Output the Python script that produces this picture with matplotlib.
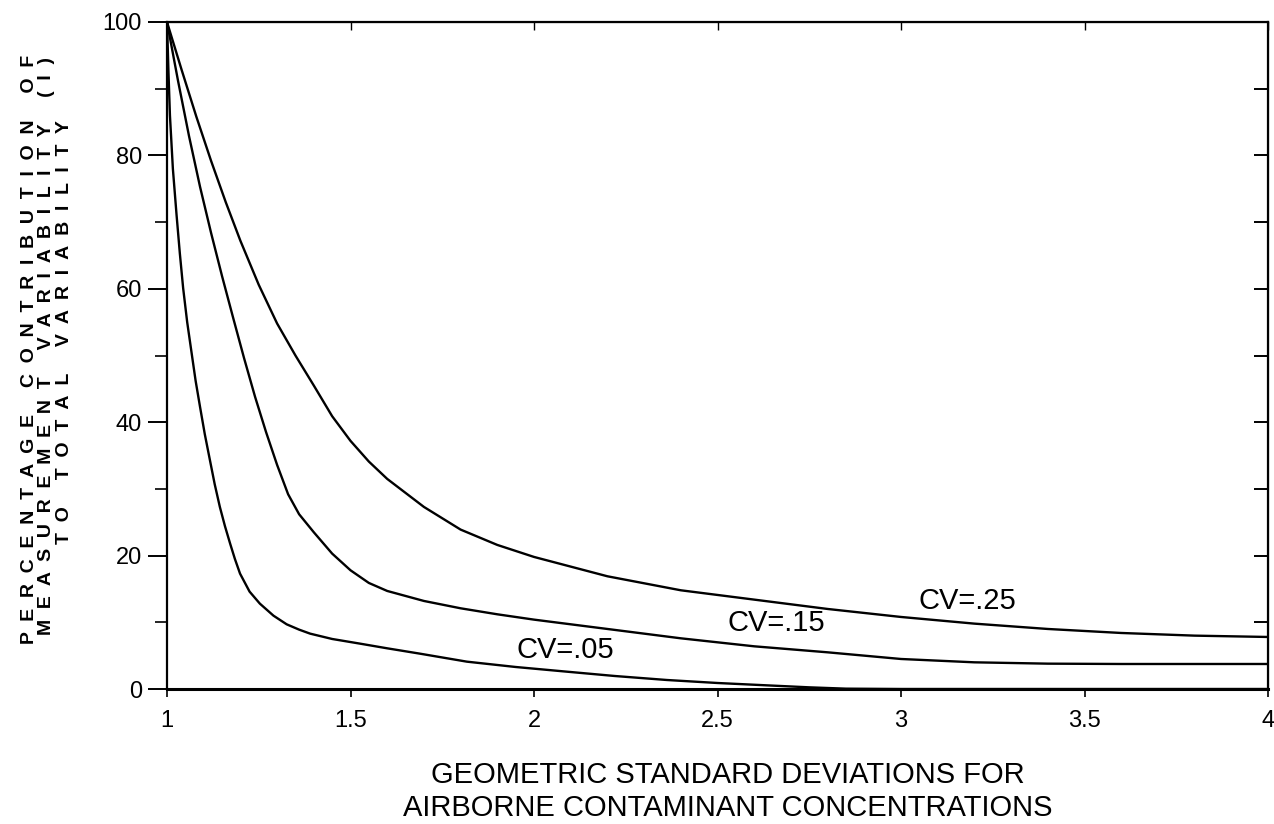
import matplotlib
matplotlib.use("Agg")
import matplotlib.pyplot as plt
from matplotlib.ticker import MultipleLocator

plt.rcParams['font.family'] = ['Liberation Sans', 'DejaVu Sans']

# ---- data ----
gsd_05 = [1.0, 1.004, 1.008, 1.016, 1.026, 1.035, 1.044, 1.055, 1.067, 1.078,
          1.090, 1.103, 1.117, 1.130, 1.144, 1.158, 1.172, 1.185, 1.199, 1.225,
          1.253, 1.29, 1.326, 1.36, 1.39, 1.45, 1.526, 1.6, 1.689, 1.817,
          1.95, 2.089, 2.22, 2.362, 2.5, 2.634, 2.75, 2.85, 3.0, 4.0]
pct_05 = [100, 92.5, 86.0, 78.0, 71.1, 65.3, 60.1, 55.0, 50.4, 46.2,
          42.3, 38.2, 34.3, 30.7, 27.3, 24.4, 21.8, 19.5, 17.3, 14.6,
          12.8, 11.0, 9.7, 8.9, 8.3, 7.5, 6.8, 6.1, 5.3, 4.1,
          3.3, 2.6, 1.95, 1.35, 0.9, 0.55, 0.25, 0.05, 0.0, 0.0]

gsd_15 = [1.0, 1.03, 1.06, 1.09, 1.12, 1.15, 1.18, 1.21, 1.24, 1.27,
          1.30, 1.33, 1.36, 1.40, 1.45, 1.50, 1.55, 1.60, 1.7, 1.8,
          1.9, 2.0, 2.2, 2.4, 2.6, 2.8, 3.0, 3.2, 3.4, 3.6, 4.0]
pct_15 = [100, 91.2, 82.9, 75.3, 68.4, 61.9, 55.7, 49.6, 43.8, 38.5,
          33.6, 29.2, 26.2, 23.5, 20.3, 17.8, 15.9, 14.7, 13.2, 12.1,
          11.2, 10.4, 9.0, 7.6, 6.4, 5.5, 4.5, 4.0, 3.8, 3.75, 3.75]

gsd_25 = [1.0, 1.04, 1.08, 1.12, 1.16, 1.20, 1.25, 1.30, 1.35, 1.40,
          1.45, 1.5, 1.55, 1.6, 1.7, 1.8, 1.9, 2.0, 2.2, 2.4,
          2.6, 2.8, 3.0, 3.2, 3.4, 3.6, 3.8, 4.0]
pct_25 = [100, 92.8, 85.8, 79.2, 73.0, 67.2, 60.6, 54.8, 50.0, 45.5,
          40.9, 37.2, 34.1, 31.5, 27.3, 23.9, 21.6, 19.8, 16.9, 14.8,
          13.4, 12.0, 10.8, 9.8, 9.0, 8.4, 8.0, 7.8]

curve_labels = ["CV=.05", "CV=.15", "CV=.25"]
label_pos = [(2.085, 5.9), (2.66, 9.9), (3.18, 13.2)]

x_ticks = [1, 1.5, 2, 2.5, 3, 3.5, 4]
x_ticklabels = ["1", "1.5", "2", "2.5", "3", "3.5", "4"]
y_ticks = [0, 20, 40, 60, 80, 100]

xlabel_lines = ["GEOMETRIC STANDARD DEVIATIONS FOR",
                "AIRBORNE CONTAMINANT CONCENTRATIONS"]
ylabel_lines = ["PERCENTAGE CONTRIBUTION OF",
                "MEASUREMENT VARIABILITY (I)",
                "TO TOTAL VARIABILITY"]

# ---- figure ----
W, H = 1274, 824
fig = plt.figure(figsize=(W / 100, H / 100), dpi=100)
ax = fig.add_axes([167 / W, 1 - 689 / H, (1268 - 167) / W, (689 - 22) / H])

for gx, py in [(gsd_05, pct_05), (gsd_15, pct_15), (gsd_25, pct_25)]:
    ax.plot(gx, py, color='black', lw=1.7, solid_joinstyle='round',
            solid_capstyle='round')

for lab, (lx, ly) in zip(curve_labels, label_pos):
    ax.text(lx, ly, lab, fontsize=21, ha='center', va='center', color='black')

ax.set_xlim(1, 4)
ax.set_ylim(0, 100)
ax.set_xticks(x_ticks)
ax.set_xticklabels(x_ticklabels)
ax.set_yticks(y_ticks)
ax.yaxis.set_minor_locator(MultipleLocator(10))

for s in ax.spines.values():
    s.set_linewidth(1.6)
ax.spines['bottom'].set_linewidth(2.2)

ax.tick_params(axis='x', which='major', direction='out', length=6, width=1.2,
               labelsize=17, pad=9, top=False)
ax.tick_params(axis='y', which='major', direction='out', length=14, width=1.4,
               labelsize=17, pad=4)
ax.tick_params(axis='y', which='minor', direction='out', length=9, width=1.2)

# inward ticks on right and top
axr = ax.secondary_yaxis('right')
axr.set_yticks([0, 10, 20, 30, 40, 50, 60, 70, 80, 90, 100])
axr.tick_params(direction='in', length=10, width=1.4, labelright=False)
axt = ax.secondary_xaxis('top')
axt.set_xticks(x_ticks)
axt.tick_params(direction='in', length=6, width=1.0, labeltop=False)

# x label (two lines)
fig.text(728 / W, 1 - 775 / H, xlabel_lines[0], fontsize=21,
         ha='center', va='center')
fig.text(728 / W, 1 - 808 / H, xlabel_lines[1], fontsize=21,
         ha='center', va='center')

# y label: letter-spaced, three lines
def spaced(s):
    return "  ".join(s)

for txt, xp, yp in zip(ylabel_lines, [30, 47, 65], [349, 346, 332]):
    fig.text(xp / W, 1 - yp / H, spaced(txt), fontsize=14, fontweight='bold',
             rotation=90, ha='center', va='center')

fig.savefig("out.png", dpi=100)
